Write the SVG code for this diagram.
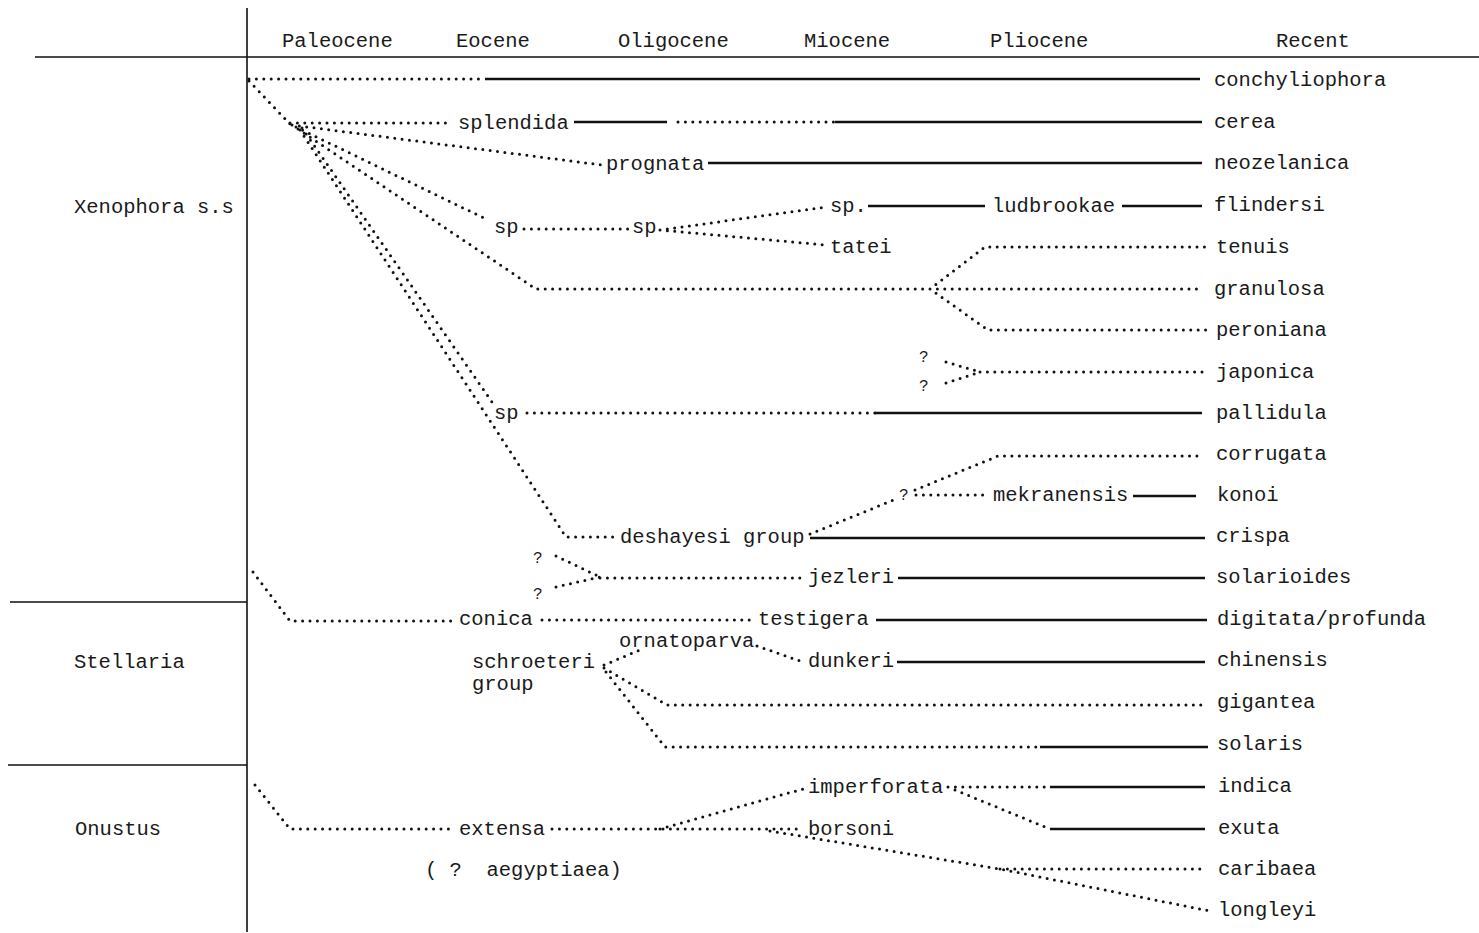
<svg xmlns="http://www.w3.org/2000/svg" width="1479" height="933" viewBox="0 0 1479 933">
<style>
text{font-family:"Liberation Mono","DejaVu Sans Mono",monospace;font-size:20.5px;fill:#1a1a1a;white-space:pre}
.q{font-size:16px}
.ax{stroke:#111;stroke-width:1.6;fill:none}
.d{stroke:#111;stroke-width:3;stroke-linecap:round;stroke-dasharray:0 7.4;fill:none}
.s{stroke:#111;stroke-width:2.6;fill:none}
</style>
<rect width="1479" height="933" fill="#fff"/>
<g id="axes">
<path class="ax" d="M247,8 V932 M35,57 H1479 M10,602 H247 M8,765 H247"/>
</g>
<g id="epochs">
<text x="282" y="47">Paleocene</text>
<text x="456" y="47">Eocene</text>
<text x="618" y="47">Oligocene</text>
<text x="804" y="47">Miocene</text>
<text x="990" y="47">Pliocene</text>
<text x="1276" y="47">Recent</text>
</g>
<g id="groups">
<text x="74" y="213">Xenophora s.s</text>
<text x="74" y="668">Stellaria</text>
<text x="75" y="835">Onustus</text>
</g>
<g id="connectors">
<path class="d" d="M249,79 H485 M249,81 L290,124"/>
<path class="s" d="M485,79 H1200"/>
<path class="d" d="M290,123 H452 M678,122 H835"/>
<path class="s" d="M574,122 H667 M835,122 H1202"/>
<path class="d" d="M292,125 L602,165"/>
<path class="s" d="M708,163 H1202"/>
<path class="d" d="M296,127 L488,220 M524,229 H628 M660,230 L826,207 M660,230 L826,245"/>
<path class="s" d="M868,206 H985 M1122,206 H1202"/>
<path class="d" d="M298,129 L536,289 H930 M930,289 L985,247 H1207 M930,289 H1203 M930,289 L988,330 H1207"/>
<path class="d" d="M946,362 L980,372 M946,383 L980,372 M980,372 H1208"/>
<path class="d" d="M302,128 L492,402 M527,413 H875"/>
<path class="s" d="M875,413 H1202"/>
<path class="d" d="M300,130 L566,537 H613"/>
<path class="d" d="M810,534 L896,499 M915,490 L998,456 H1203 M916,495 H990"/>
<path class="s" d="M1133,496 H1196 M810,538 H1205"/>
<path class="d" d="M556,556 L600,577 M556,587 L600,577 M600,578 H805"/>
<path class="s" d="M898,578 H1205"/>
<path class="d" d="M253,572 L290,621 H452 M542,620 H755"/>
<path class="s" d="M876,620 H1207"/>
<path class="d" d="M757,646 L803,662 M604,665 L640,650 M604,668 L667,705 H1205 M606,672 L665,747 H1040"/>
<path class="s" d="M897,662 H1205 M1040,747 H1208"/>
<path class="d" d="M255,785 L290,829 H452 M552,829 H803 M660,829 L803,789 M948,787 H1050 M955,790 L1050,829 M770,831 L1000,869 L1210,911 M1000,869 H1205"/>
<path class="s" d="M1050,787 H1205 M1050,829 H1205"/>
</g>
<g id="n-conchyliophora"><text x="1214" y="86">conchyliophora</text></g>
<g id="n-splendida"><text x="458" y="129">splendida</text></g>
<g id="n-cerea"><text x="1214" y="128">cerea</text></g>
<g id="n-prognata"><text x="606" y="170">prognata</text></g>
<g id="n-neozelanica"><text x="1214" y="169">neozelanica</text></g>
<g id="n-sp1"><text x="494" y="233">sp</text></g>
<g id="n-sp2"><text x="632" y="233">sp</text></g>
<g id="n-sp3"><text x="830" y="212">sp.</text></g>
<g id="n-ludbrookae"><text x="992" y="212">ludbrookae</text></g>
<g id="n-flindersi"><text x="1214" y="211">flindersi</text></g>
<g id="n-tatei"><text x="830" y="253">tatei</text></g>
<g id="n-tenuis"><text x="1216" y="253">tenuis</text></g>
<g id="n-granulosa"><text x="1214" y="295">granulosa</text></g>
<g id="n-peroniana"><text x="1216" y="336">peroniana</text></g>
<g id="n-q1"><text class="q" x="919" y="362">?</text><text class="q" x="919" y="391">?</text></g>
<g id="n-japonica"><text x="1216" y="378">japonica</text></g>
<g id="n-sp4"><text x="494" y="419">sp</text></g>
<g id="n-pallidula"><text x="1216" y="419">pallidula</text></g>
<g id="n-q2"><text class="q" x="899" y="500">?</text></g>
<g id="n-corrugata"><text x="1216" y="460">corrugata</text></g>
<g id="n-mekranensis"><text x="993" y="501">mekranensis</text></g>
<g id="n-konoi"><text x="1217" y="501">konoi</text></g>
<g id="n-deshayesi"><text x="620" y="543">deshayesi group</text></g>
<g id="n-crispa"><text x="1216" y="542">crispa</text></g>
<g id="n-q3"><text class="q" x="533" y="563">?</text><text class="q" x="533" y="599">?</text></g>
<g id="n-jezleri"><text x="808" y="583">jezleri</text></g>
<g id="n-solarioides"><text x="1216" y="583">solarioides</text></g>
<g id="n-conica"><text x="459" y="625">conica</text></g>
<g id="n-testigera"><text x="758" y="625">testigera</text></g>
<g id="n-digitata"><text x="1217" y="625">digitata/profunda</text></g>
<g id="n-ornatoparva"><text x="619" y="647">ornatoparva</text></g>
<g id="n-schroeteri"><text x="472" y="668">schroeteri</text><text x="472" y="690">group</text></g>
<g id="n-dunkeri"><text x="808" y="667">dunkeri</text></g>
<g id="n-chinensis"><text x="1217" y="666">chinensis</text></g>
<g id="n-gigantea"><text x="1217" y="708">gigantea</text></g>
<g id="n-solaris"><text x="1217" y="750">solaris</text></g>
<g id="n-imperforata"><text x="808" y="793">imperforata</text></g>
<g id="n-indica"><text x="1218" y="792">indica</text></g>
<g id="n-extensa"><text x="459" y="835">extensa</text></g>
<g id="n-borsoni"><text x="808" y="835">borsoni</text></g>
<g id="n-exuta"><text x="1218" y="834">exuta</text></g>
<g id="n-caribaea"><text x="1218" y="875">caribaea</text></g>
<g id="n-aegyptiaea"><text x="425" y="876">( ?  aegyptiaea)</text></g>
<g id="n-longleyi"><text x="1218" y="916">longleyi</text></g>
</svg>
